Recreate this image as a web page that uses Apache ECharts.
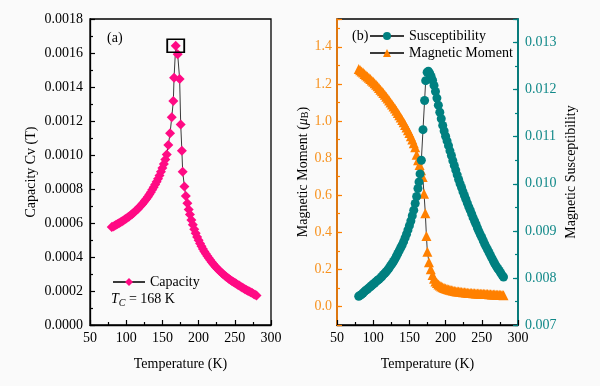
<!DOCTYPE html>
<html><head><meta charset="utf-8">
<script src="https://cdn.jsdelivr.net/npm/echarts@6/dist/echarts.min.js"></script>
<style>html,body{margin:0;padding:0;background:#fafafa}#c{width:600px;height:386px}</style>
</head><body><div id="c"></div>
<script>
// ---- Panel (a): capacity Cv vs temperature ----
const capTemps = [80,82,84,86,88,90,92,94,96,98,100,102,104,106,108,110,112,114,116,118,120,122,124,126,128,130,132,134,136,138,140,142,144,146,148,150,152,154,156,
  158.2,160.6,162.9,165.1,166.1,168.4,171.1,173.8,175.3,176.9,178.0,180.4,182.3,184.5,186.3,
  188,190,192,194,196,198,200,202,204,206,208,210,212,214,216,218,220,222,224,226,228,230,232,234,236,238,240,242,244,246,248,250,252,254,256,258,260,262,264,266,268,270,272,274,276,278,280];
const capValues = [0.000576,0.000580,0.000584,0.000589,0.000594,0.000599,0.000604,0.000609,0.000614,0.000620,0.000626,0.000632,0.000638,0.000645,0.000652,0.000659,0.000667,0.000675,0.000683,0.000692,0.000701,0.000711,0.000721,0.000732,0.000743,0.000755,0.000768,0.000781,0.000795,0.000810,0.000826,0.000843,0.000861,0.000880,0.000901,0.000923,0.000947,0.000973,0.001003,
  0.001059,0.001128,0.001222,0.001318,0.001455,0.001643,0.001592,0.001447,0.001180,0.001025,0.000902,0.000814,0.000759,0.000716,0.000680,
  0.000650,0.000618,0.000590,0.000563,0.000540,0.000518,0.000498,0.000480,0.000463,0.000447,0.000433,0.000419,0.000406,0.000394,0.000382,0.000371,0.000360,0.000350,0.000340,0.000331,0.000322,0.000314,0.000306,0.000299,0.000291,0.000284,0.000278,0.000271,0.000265,0.000259,0.000253,0.000248,0.000242,0.000237,0.000232,0.000226,0.000221,0.000216,0.000211,0.000206,0.000201,0.000197,0.000192,0.000188,0.000183,0.000178,0.000173];

// ---- Panel (b): magnetic moment (left axis) ----
const momTemps = [80,82,84,86,88,90,92,94,96,98,100,102,104,106,108,110,112,114,116,118,120,122,124,126,128,130,132,134,136,138,140,142,144,146,148,150,152,154,156,158,160,162,164,166,
  168.4,170.2,172,173.5,174.8,177,179.5,
  182,184,186,188,190,192,194,196,198,200,202,204,206,208,210,212,214,216,218,220,222,224,226,228,230,232,234,236,238,240,242,244,246,248,250,252,254,256,258,260,262,264,266,268,270,272,274,276,278,280];
const momValues = [1.280,1.274,1.267,1.261,1.254,1.247,1.240,1.233,1.226,1.219,1.211,1.203,1.195,1.187,1.178,1.169,1.160,1.151,1.141,1.131,1.121,1.111,1.100,1.089,1.078,1.067,1.055,1.043,1.031,1.019,1.006,0.993,0.979,0.965,0.950,0.935,0.918,0.900,0.880,0.858,0.818,0.789,0.763,0.735,
  0.698,0.608,0.503,0.380,0.295,0.239,0.200,
  0.170,0.150,0.135,0.126,0.119,0.113,0.108,0.104,0.100,0.097,0.094,0.092,0.090,0.088,0.086,0.084,0.082,0.081,0.080,0.079,0.078,0.077,0.076,0.075,0.074,0.073,0.0725,0.072,0.0715,0.071,0.0705,0.070,0.0695,0.069,0.0685,0.068,0.0675,0.067,0.0665,0.066,0.0655,0.065,0.0645,0.064,0.0635,0.063,0.0625,0.062,0.0615,0.061];

// ---- Panel (b): susceptibility (right axis) ----
const suscTemps = [80,82,84,86,88,90,92,94,96,98,100,102,104,106,108,110,112,114,116,118,120,122,124,126,128,130,132,134,136,138,140,142,144,146,148,150,152,154,156,158,160,
  161.8,163.3,164.7,166.5,168.8,171,172.5,174.5,176.2,
  178,180,182,184,186,188,190,192,194,196,198,200,202,204,206,208,210,212,214,216,218,220,222,224,226,228,230,232,234,236,238,240,242,244,246,248,250,252,254,256,258,260,262,264,266,268,270,272,274,276,278,280];
const suscValues = [0.00761,0.00763,0.00765,0.00768,0.00771,0.00774,0.00776,0.00779,0.00781,0.00784,0.00787,0.00789,0.00792,0.00795,0.00797,0.00800,0.00803,0.00807,0.00810,0.00813,0.00817,0.00821,0.00826,0.00830,0.00835,0.00840,0.00846,0.00852,0.00858,0.00864,0.00870,0.00877,0.00885,0.00893,0.00902,0.00911,0.00921,0.00932,0.00944,0.00958,0.00973,
  0.00990,0.01004,0.01021,0.01050,0.01115,0.01177,0.01219,0.01237,0.01239,
  0.01235,0.01228,0.01220,0.01209,0.01196,0.01182,0.01167,0.01152,0.01138,0.01124,0.01112,0.01101,0.01091,0.01081,0.01070,0.01060,0.01049,0.01039,0.01029,0.01019,0.01009,0.01000,0.00992,0.00983,0.00975,0.00967,0.00959,0.00951,0.00944,0.00936,0.00928,0.00921,0.00914,0.00906,0.00899,0.00892,0.00886,0.00879,0.00872,0.00866,0.00860,0.00854,0.00848,0.00842,0.00836,0.00830,0.00825,0.00820,0.00816,0.00811,0.00806,0.00802];

const tempRange = [50, 300];
const capRange = [0, 0.0018];
const momRange = [-0.1, 1.55];
const suscRange = [0.007, 0.0135];
const tcLabel = '168 K';

const FONT = 'Liberation Serif';
const PINK = '#ff0a84', ORANGE = '#ff8000', ORANGE_T = '#f7921e', TEAL = '#008080', TEAL_T = '#108888';
const LINE = '#3a3a3a';

const zip = (a, b) => a.map((t, i) => [t, b[i]]);
const capData = zip(capTemps, capValues);
const momData = zip(momTemps, momValues);
const suscData = zip(suscTemps, suscValues);
let peakIdx = 0;
capValues.forEach((v, i) => { if (v > capValues[peakIdx]) peakIdx = i; });

const lbl = (color, extra) => Object.assign({ fontFamily: FONT, fontSize: 14, fontWeight: 'normal', color: color }, extra || {});

function xAxisFor(g) {
  return {
    gridIndex: g, type: 'value', min: tempRange[0], max: tempRange[1], interval: 50,
    axisLine: { show: true, onZero: false, lineStyle: { color: '#000', width: 1.3 } },
    axisTick: { show: true, inside: true, length: 5, lineStyle: { color: '#000', width: 1.2 } },
    minorTick: { show: true, splitNumber: 2, length: 3, lineStyle: { color: '#000', width: 1.2 } },
    splitLine: { show: false }, minorSplitLine: { show: false },
    axisLabel: lbl('#000', { margin: 6 }),
    name: 'Temperature (K)', nameLocation: 'middle', nameGap: 32,
    nameTextStyle: lbl('#000')
  };
}

const chart = echarts.init(document.getElementById('c'), null, { renderer: 'canvas' });
chart.setOption({
  animation: false,
  backgroundColor: '#fafafa',
  textStyle: { fontFamily: FONT },
  title: [
    { text: '(a)', left: 107, top: 31, padding: 0, textStyle: lbl('#000') },
    { text: '(b)', left: 352, top: 29, padding: 0, textStyle: lbl('#000') },
    { text: '{i|T}{s|C}{n| = ' + tcLabel + '}', left: 111, top: 290, padding: 0,
      textStyle: { fontWeight: 'normal', rich: {
        i: { fontFamily: FONT, fontSize: 14, fontWeight: 'normal', fontStyle: 'italic', color: '#000', lineHeight: 18 },
        s: { fontFamily: FONT, fontSize: 10, fontWeight: 'normal', fontStyle: 'italic', color: '#000', verticalAlign: 'bottom', lineHeight: 12 },
        n: { fontFamily: FONT, fontSize: 14, fontWeight: 'normal', color: '#000', lineHeight: 18 }
      } } }
  ],
  legend: [
    { data: ['Capacity'], left: 112, top: 274, padding: 0, itemWidth: 32, itemHeight: 10,
      textStyle: lbl('#000', { lineHeight: 16 }) },
    { data: ['Susceptibility', 'Magnetic Moment'], orient: 'vertical', left: 369, top: 28, padding: 0,
      itemWidth: 34, itemHeight: 10, itemGap: 1, textStyle: lbl('#000', { lineHeight: 16 }) }
  ],
  grid: [
    { left: 90, top: 19, width: 181, height: 306, show: true, borderColor: '#000', borderWidth: 1.3, backgroundColor: 'transparent' },
    { left: 337, top: 19, width: 181, height: 306, show: true, borderColor: '#000', borderWidth: 1.3, backgroundColor: 'transparent' }
  ],
  xAxis: [xAxisFor(0), xAxisFor(1)],
  yAxis: [
    { gridIndex: 0, type: 'value', min: capRange[0], max: capRange[1], interval: 0.0002,
      axisLine: { show: true, lineStyle: { color: '#000', width: 1.3 } },
      axisTick: { show: true, inside: true, length: 5, lineStyle: { color: '#000', width: 1.2 } },
      minorTick: { show: true, splitNumber: 2, length: 3, lineStyle: { color: '#000', width: 1.2 } },
      splitLine: { show: false },
      axisLabel: lbl('#000', { margin: 7, formatter: v => v.toFixed(4) }),
      name: 'Capacity Cv (T)', nameLocation: 'middle', nameGap: 52, nameRotate: 90, nameTextStyle: lbl('#000') },
    { gridIndex: 1, type: 'value', position: 'left', min: momRange[0], max: momRange[1], splitNumber: 8,
      axisLine: { show: true, lineStyle: { color: ORANGE, width: 1.6 } },
      axisTick: { show: true, inside: true, length: 5, lineStyle: { color: ORANGE, width: 1.2 } },
      splitLine: { show: false },
      axisLabel: lbl(ORANGE_T, { margin: 5, formatter: v => (Math.abs(v * 5 - Math.round(v * 5)) < 1e-6 ? v.toFixed(1) : '') }),
      name: 'Magnetic Moment ({m|μ}{b|B})', nameLocation: 'middle', nameGap: 24, nameRotate: 90,
      nameTextStyle: lbl('#000', { rich: {
        m: { fontFamily: FONT, fontSize: 14, fontStyle: 'italic', color: '#000' },
        b: { fontFamily: FONT, fontSize: 10, color: '#000', verticalAlign: 'bottom', lineHeight: 12 }
      } }) },
    { gridIndex: 1, type: 'value', position: 'right', min: suscRange[0], max: suscRange[1], interval: 0.001,
      axisLine: { show: true, lineStyle: { color: TEAL, width: 1.8 } },
      axisTick: { show: true, inside: true, length: 5, lineStyle: { color: TEAL, width: 1.2 } },
      splitLine: { show: false },
      axisLabel: lbl(TEAL_T, { margin: 7, formatter: v => (Math.abs(v * 1000 - Math.round(v * 1000)) < 1e-6 ? v.toFixed(3) : '') }),
      name: 'Magnetic Susceptibility', nameLocation: 'middle', nameGap: 46, nameRotate: 90, nameTextStyle: lbl('#000') },
    // minor-tick helper axes for panel (b)
    { gridIndex: 1, type: 'value', position: 'left', min: momRange[0], max: momRange[1], interval: 0.1,
      axisLine: { show: false }, axisLabel: { show: false }, splitLine: { show: false },
      axisTick: { show: true, inside: true, length: 3, lineStyle: { color: ORANGE, width: 1.2 } } },
    { gridIndex: 1, type: 'value', position: 'right', min: suscRange[0], max: suscRange[1], interval: 0.0005,
      axisLine: { show: false }, axisLabel: { show: false }, splitLine: { show: false },
      axisTick: { show: true, inside: true, length: 3, lineStyle: { color: TEAL, width: 1.2 } } }
  ],
  series: [
    { name: 'Capacity', type: 'line', xAxisIndex: 0, yAxisIndex: 0, data: capData,
      symbol: 'diamond', symbolSize: 10, showAllSymbol: true, silent: true,
      itemStyle: { color: PINK }, lineStyle: { color: LINE, width: 1 },
      markPoint: { silent: true, symbol: 'rect', symbolSize: [17, 13],
        itemStyle: { color: 'rgba(0,0,0,0)', borderColor: '#000', borderWidth: 1.6 },
        label: { show: false },
        data: [{ coord: capData[peakIdx] }] } },
    { name: 'Magnetic Moment', type: 'line', xAxisIndex: 1, yAxisIndex: 1, data: momData,
      symbol: 'triangle', symbolSize: 10, showAllSymbol: true, silent: true,
      itemStyle: { color: ORANGE }, lineStyle: { color: LINE, width: 1 } },
    { name: 'Susceptibility', type: 'line', xAxisIndex: 1, yAxisIndex: 2, data: suscData,
      symbol: 'circle', symbolSize: 9, showAllSymbol: true, silent: true,
      itemStyle: { color: TEAL }, lineStyle: { color: LINE, width: 1 } }
  ]
});
</script>
</body></html>
